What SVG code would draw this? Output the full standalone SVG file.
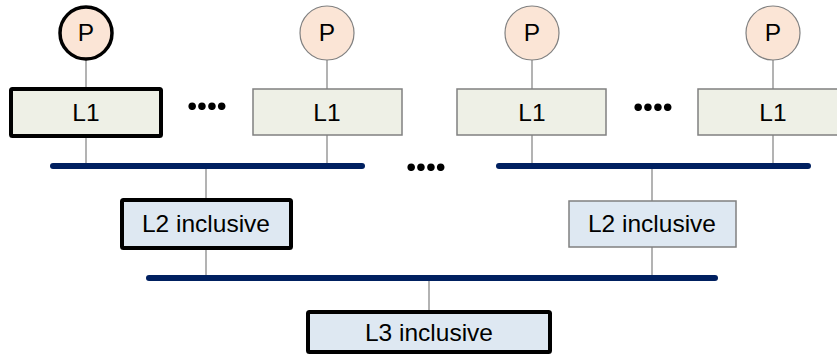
<svg xmlns="http://www.w3.org/2000/svg" width="837" height="355" viewBox="0 0 837 355">
  <style>
    .label { font-family: "Liberation Sans", Arial, sans-serif; font-size: 24.5px; fill: #000; text-anchor: middle; }
    .dots { font-family: Lato, "Liberation Sans", sans-serif; font-size: 50px; font-weight: bold; fill: #000; text-anchor: middle; letter-spacing: -2px; }
    .proc { fill: #FBE5D6; stroke: #808080; stroke-width: 1.2; }
    .l1 { fill: #EEF0E6; stroke: #808080; stroke-width: 1.5; }
    .l2 { fill: #DEE8F2; stroke: #808080; stroke-width: 1.5; }
    .bold { stroke: #000; stroke-width: 4; }
    .wire { stroke: #808080; stroke-width: 1.2; fill: none; }
    .bus { stroke: #002060; stroke-width: 6; stroke-linecap: round; fill: none; }
  </style>

  <!-- connectors: thin links and interconnect buses -->
  <g id="connectors">
    <line class="wire" x1="86" y1="60" x2="86" y2="89"/>
    <line class="wire" x1="327" y1="60" x2="327" y2="89"/>
    <line class="wire" x1="532" y1="60" x2="532" y2="89"/>
    <line class="wire" x1="773" y1="60" x2="773" y2="89"/>
    <line class="wire" x1="86" y1="137" x2="86" y2="166"/>
    <line class="wire" x1="327" y1="135" x2="327" y2="166"/>
    <line class="wire" x1="532" y1="135" x2="532" y2="166"/>
    <line class="wire" x1="773" y1="135" x2="773" y2="166"/>
    <line class="wire" x1="206" y1="166" x2="206" y2="200"/>
    <line class="wire" x1="652" y1="166" x2="652" y2="201"/>
    <line class="wire" x1="206" y1="249" x2="206" y2="278"/>
    <line class="wire" x1="652" y1="247" x2="652" y2="278"/>
    <line class="wire" x1="429" y1="278" x2="429" y2="312"/>
    <line class="bus" x1="53" y1="166" x2="362" y2="166"/>
    <line class="bus" x1="499" y1="166" x2="808" y2="166"/>
    <line class="bus" x1="149" y1="278" x2="715" y2="278"/>
  </g>

  <!-- processors -->
  <g id="p1"><circle class="proc bold" cx="86" cy="33" r="26" style="stroke-width:3.5"/><text class="label" x="86" y="41">P</text></g>
  <g id="p2"><circle class="proc" cx="327" cy="33" r="27"/><text class="label" x="327" y="41">P</text></g>
  <g id="p3"><circle class="proc" cx="532" cy="33" r="27"/><text class="label" x="532" y="41">P</text></g>
  <g id="p4"><circle class="proc" cx="773" cy="33" r="27"/><text class="label" x="773" y="41">P</text></g>

  <!-- private L1 caches -->
  <g id="l1a"><rect class="l1 bold" x="11" y="89" width="150" height="47" rx="1.5"/><text class="label" x="86" y="121">L1</text></g>
  <g id="l1b"><rect class="l1" x="253" y="89" width="149" height="46"/><text class="label" x="327" y="121">L1</text></g>
  <g id="l1c"><rect class="l1" x="457" y="89" width="149" height="46"/><text class="label" x="532" y="121">L1</text></g>
  <g id="l1d"><rect class="l1" x="698" y="89" width="149" height="46"/><text class="label" x="773" y="121">L1</text></g>

  <!-- ellipses between repeated units -->
  <g id="dots1"><text class="dots" x="206" y="110">....</text></g>
  <g id="dots2"><text class="dots" x="425" y="171">....</text></g>
  <g id="dots3"><text class="dots" x="652" y="111">....</text></g>

  <!-- shared L2 caches -->
  <g id="l2a"><rect class="l2 bold" x="122" y="200" width="169" height="48" rx="1.5"/><text class="label" x="206" y="232">L2 inclusive</text></g>
  <g id="l2b"><rect class="l2" x="569" y="201" width="167" height="46"/><text class="label" x="652" y="232">L2 inclusive</text></g>

  <!-- shared L3 cache -->
  <g id="l3"><rect class="l2 bold" x="308" y="312" width="242" height="40" rx="1.5"/><text class="label" x="429" y="341">L3 inclusive</text></g>
</svg>
